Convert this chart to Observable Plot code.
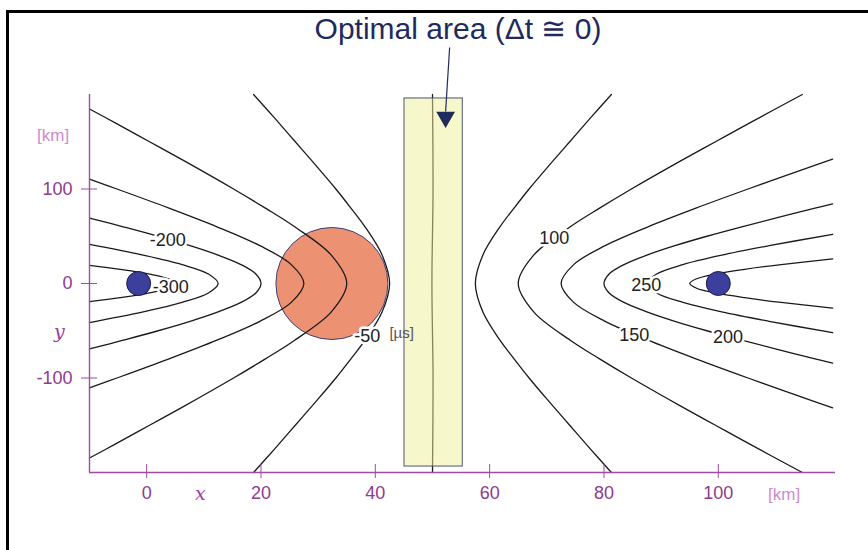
<!DOCTYPE html>
<html><head><meta charset="utf-8">
<script src="https://cdn.jsdelivr.net/npm/d3@7"></script>
<script src="https://cdn.jsdelivr.net/npm/@observablehq/plot@0.6"></script>
<style>
body{margin:0;background:#fff;}
#wrap{position:relative;width:868px;height:550px;overflow:hidden;font-family:"Liberation Sans",Arial,sans-serif;}
#frame{position:absolute;left:6px;top:10px;width:900px;height:600px;border-left:3px solid #000;border-top:3px solid #000;}
#chart{position:absolute;left:0;top:0;}
#title{position:absolute;left:208px;width:500px;top:14px;text-align:center;font-size:30px;line-height:30px;color:#1f2a5e;white-space:nowrap;}
.unit{position:absolute;font-size:17px;line-height:17px;color:#d08ad0;}
.ax{position:absolute;font-family:"DejaVu Serif",serif;font-style:italic;font-size:19px;line-height:19px;color:#9a3d9a;}
</style></head>
<body><div id="wrap">
<div id="frame"></div>
<div id="chart"></div>
<div id="title">Optimal area (Δt ≅ 0)</div>
<div class="unit" style="left:37px;top:127px;">[km]</div>
<div class="unit" style="left:768px;top:486px;">[km]</div>
<div class="ax" style="left:54px;top:322px;">y</div>
<div class="ax" style="left:195px;top:484px;">x</div>
</div>
<script>
// axis ticks
const xTicks = [0, 20, 40, 60, 80, 100];
const yTicks = [-100, 0, 100];

// stations (blue dots) and the circled area
const stationX = [-1.4, 100];
const stationY = [0, 0];
const circleX = [32.4];
const circleY = [0];

// optimal area rectangle
const optX = [45.1, 55.3];
const optY = [-193.7, 195.8];

// pointer from title to rectangle
const pointerFrom = [53.0, 249.7];
const pointerTo = [52.3, 176];

// contour levels (µs) and their traced points [x km, y km]
const levels = [-300, -250, -200, -150, -100, -50, 0, 50, 100, 150, 200, 250, 300];
const cM300 = [[-10,19.2],[-4.6,15],[0.5,10],[3.8,5],[5,0],[3.8,-5],[0.5,-10],[-4.6,-15],[-10,-19.2]];
const cM250 = [[-10,41.3],[-0.6,30],[6.2,20],[10.8,10],[12.5,0],[10.8,-10],[6.2,-20],[-0.6,-30],[-10,-41.3]];
const cM200 = [[-10,69.3],[-4.1,60],[2,50],[7.6,40],[12.5,30],[16.5,20],[19.1,10],[20,0],[19.1,-10],[16.5,-20],[12.5,-30],[7.6,-40],[2,-50],[-4.1,-60],[-10,-69.3]];
const cM150 = [[-10,110.4],[-5.2,100],[3.8,80],[12.3,60],[19.8,40],[25.3,20],[27.5,0],[25.3,-20],[19.8,-40],[12.3,-60],[3.8,-80],[-5.2,-100],[-10,-110.4]];
const cM100 = [[-10,184.7],[-5.5,170],[0.5,150],[6.5,130],[15.2,100],[20.7,80],[25.9,60],[32.3,30],[35,0],[32.3,-30],[25.9,-60],[20.7,-80],[15.2,-100],[6.5,-130],[0.5,-150],[-5.5,-170],[-10,-184.7]];
const cM50 = [[18.7,200],[22.4,175],[26,150],[29.6,125],[33.1,100],[35.7,80],[38.2,60],[41.2,30],[42.5,0],[41.2,-30],[38.2,-60],[35.7,-80],[33.1,-100],[29.6,-125],[26,-150],[22.4,-175],[18.7,-200]];
const c0 = [[50,200],[50.1,100],[49.9,0],[50.1,-100],[50,-200]];
const cP50 = [[81.3,200],[77.6,175],[74,150],[70.4,125],[66.9,100],[64.3,80],[61.8,60],[58.8,30],[57.5,0],[58.8,-30],[61.8,-60],[64.3,-80],[66.9,-100],[70.4,-125],[74,-150],[77.6,-175],[81.3,-200]];
const cP100 = [[114.7,200],[105.5,170],[99.5,150],[93.5,130],[84.8,100],[79.3,80],[74.1,60],[67.7,30],[65,0],[67.7,-30],[74.1,-60],[79.3,-80],[84.8,-100],[93.5,-130],[99.5,-150],[105.5,-170],[114.7,-200]];
const cP150 = [[120,131.5],[114.5,120],[105.2,100],[96.2,80],[87.7,60],[80.2,40],[74.7,20],[72.5,0],[74.7,-20],[80.2,-40],[87.7,-60],[96.2,-80],[105.2,-100],[114.5,-120],[120,-131.5]];
const cP200 = [[120,84.3],[117.1,80],[110.5,70],[104.1,60],[98,50],[92.4,40],[87.5,30],[83.5,20],[80.9,10],[80,0],[80.9,-10],[83.5,-20],[87.5,-30],[92.4,-40],[98,-50],[104.1,-60],[110.5,-70],[117.1,-80],[120,-84.3]];
const cP250 = [[120,52.1],[108.9,40],[100.6,30],[93.8,20],[89.2,10],[87.5,0],[89.2,-10],[93.8,-20],[100.6,-30],[108.9,-40],[120,-52.1]];
const cP300 = [[120,26],[111,20],[104.6,15],[99.5,10],[96.2,5],[95,0],[96.2,-5],[99.5,-10],[104.6,-15],[111,-20],[120,-26]];

// contour labels
const labelText = ["-300", "-200", "-50", "100", "150", "200", "250"];
const labelX = [4.2, 3.7, 38.6, 71.3, 85.3, 101.7, 87.4];
const labelY = [-4, 45.5, -56, 47.6, -55, -57, -2];
const unitText = ["[µs]"];
const unitX = [44.6];
const unitY = [-53];

const tracks = [cM300, cM250, cM200, cM150, cM100, cM50, c0, cP50, cP100, cP150, cP200, cP250, cP300];
const lineData = tracks.flatMap((pts, i) => pts.map(([x, y]) => ({level: levels[i], x, y})));
const stations = stationX.map((x, i) => ({x, y: stationY[i]}));
const circle = circleX.map((x, i) => ({x, y: circleY[i]}));
const rect = [{x1: optX[0], x2: optX[1], y1: optY[0], y2: optY[1]}];
const labels = labelText.map((t, i) => ({t, x: labelX[i], y: labelY[i]}));
const units = unitText.map((t, i) => ({t, x: unitX[i], y: unitY[i]}));
const pointer = [{x1: pointerFrom[0], y1: pointerFrom[1], x2: pointerTo[0], y2: pointerTo[1] + 6}];

const axisColor = "#a24aa2";
const tickText = "#8e3a8e";
const plain = d => String(d);

const chart = Plot.plot({
  width: 868,
  height: 550,
  marginLeft: 89,
  marginRight: 33,
  marginTop: 94,
  marginBottom: 78,
  style: {fontFamily: "'Liberation Sans', Arial, sans-serif", background: "transparent"},
  x: {domain: [-10, 120.5]},
  y: {domain: [-200, 200]},
  marks: [
    Plot.dot(circle, {x: "x", y: "y", r: 56, fill: "#ec9273", stroke: "#3b3f7c", strokeWidth: 1}),
    Plot.line(lineData, {x: "x", y: "y", z: "level", curve: "catmull-rom", stroke: "#1a1a1a", strokeWidth: 1.3}),
    Plot.rect(rect, {x1: "x1", x2: "x2", y1: "y1", y2: "y2", fill: "#f0f09a", fillOpacity: 0.5, stroke: "#4a5578", strokeWidth: 1}),
    Plot.dot(stations, {x: "x", y: "y", r: 12, fill: "#3c409c", stroke: "#1a1a4a", strokeWidth: 1}),
    Plot.text(labels, {x: "x", y: "y", text: "t", fontSize: 18, fill: "#222", stroke: "white", strokeWidth: 5}),
    Plot.text(units, {x: "x", y: "y", text: "t", fontSize: 15, fill: "#555"}),
    Plot.ruleY([-200], {stroke: axisColor, strokeWidth: 1.4}),
    Plot.ruleX([-10], {stroke: axisColor, strokeWidth: 1.4}),
    Plot.axisX(xTicks, {tickSize: 14, dy: -8, tickPadding: 8, fontSize: 18, stroke: axisColor, fill: tickText, label: null, tickFormat: plain}),
    Plot.axisY(yTicks, {tickSize: 16, dx: 8, tickPadding: 9, fontSize: 18, stroke: axisColor, fill: tickText, label: null, tickFormat: plain}),
    Plot.link(pointer, {x1: "x1", y1: "y1", x2: "x2", y2: "y2", stroke: "#1f2a5e", strokeWidth: 1.2}),
    Plot.dot([pointerTo], {x: d => d[0], y: d => d[1], symbol: "triangle", rotate: 180, r: 6, fill: "#1f2a5e", stroke: "#1f2a5e"})
  ]
});
document.getElementById("chart").appendChild(chart);
</script>
</body></html>
